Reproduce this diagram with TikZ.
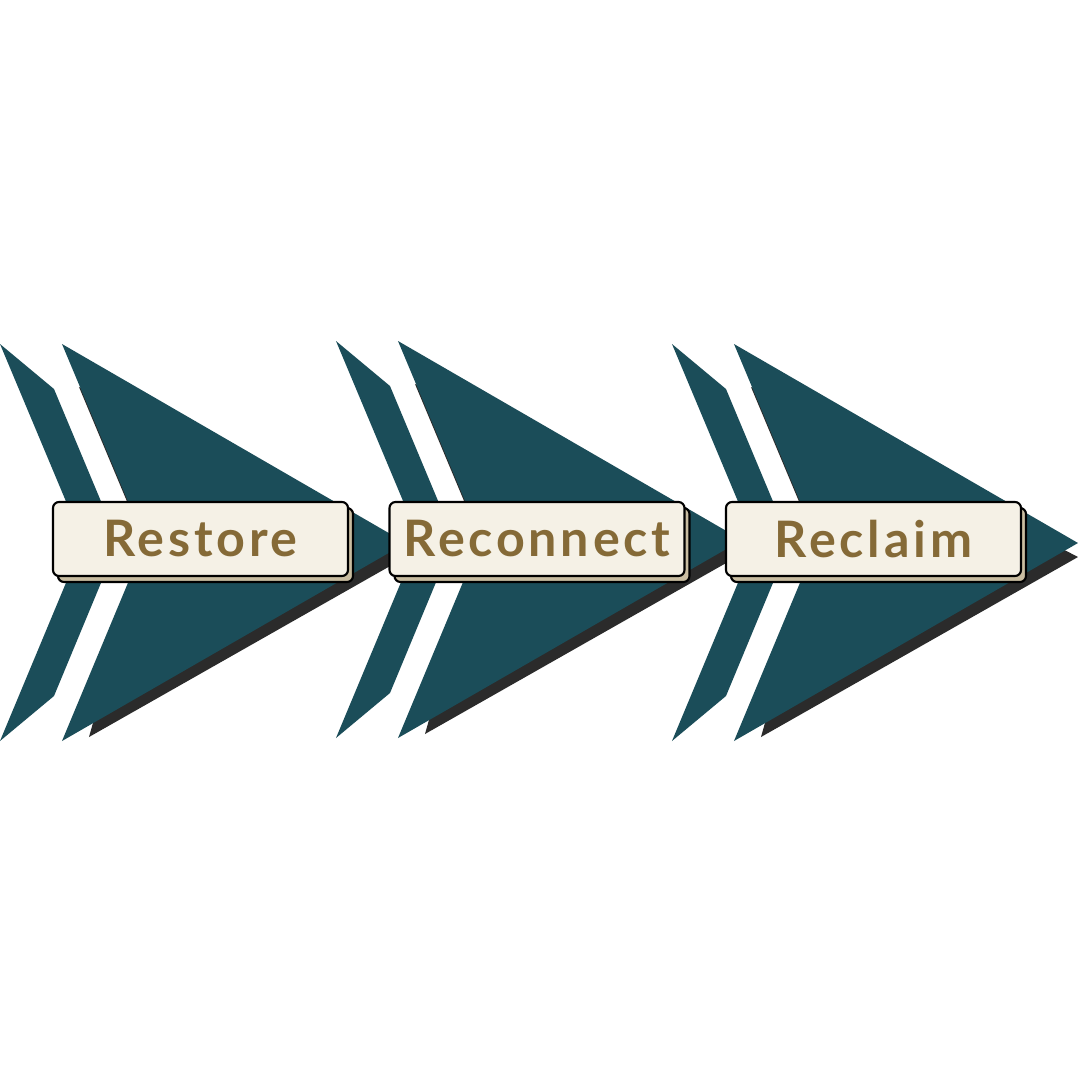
\documentclass[tikz,border=0pt]{standalone}
\usepackage{fontspec}
\setmainfont{Lato}
\newfontfamily\keyfont{Lato}[LetterSpace=7.5]
\usepackage{tikz}
\usetikzlibrary{shadows}

\definecolor{chevronteal}{HTML}{1B4D59}
\definecolor{shadowgray}{HTML}{2B2B2B}
\definecolor{keycream}{HTML}{F5F1E6}
\definecolor{keytan}{HTML}{C9BDA1}
\definecolor{labelbrown}{HTML}{856A37}

\tikzset{
	chevron/.style={fill=chevronteal},
	chevronshadow/.style={fill=shadowgray},
	keylabel/.style={draw=black, line width=0.6pt, fill=keycream, rounded corners=0.6mm,
		minimum width=29.5mm, minimum height=7.4mm, inner sep=0pt,
		text=labelbrown, font=\keyfont\fontsize{14.3}{17}\selectfont\bfseries,
		copy shadow={draw=black, line width=0.6pt, fill=keytan,
			shadow xshift=0.5mm, shadow yshift=-0.6mm}},
}

\begin{document}
\begin{tikzpicture}[x=0.1mm, y=-0.1mm]
	\fill[white] (0,0) rectangle (1080,1080);
	\useasboundingbox (0,0) rectangle (1080,1080);
	% three chevron groups
	\foreach \dx/\dy in {0/0, 336/-3, 672/0} {
		\begin{scope}[shift={(\dx,\dy)}]
			\fill[chevronshadow] (79,387) -- (406,557) -- (89,737) -- (144,542) -- cycle;
			\fill[chevron] (0,344) -- (54,389) -- (118,542) -- (54,696) -- (0,741) -- (83,542) -- cycle;
			\fill[chevron] (62,344) -- (406,543) -- (62,741) -- (145,542) -- cycle;
		\end{scope}
	}
	% labels
	\node[keylabel] (restore)   at (200.5,539) {Restore};
	\node[keylabel] (reconnect) at (537,539)   {Reconnect};
	\node[keylabel] (reclaim)   at (873.5,539) {Reclaim};
\end{tikzpicture}
\end{document}
